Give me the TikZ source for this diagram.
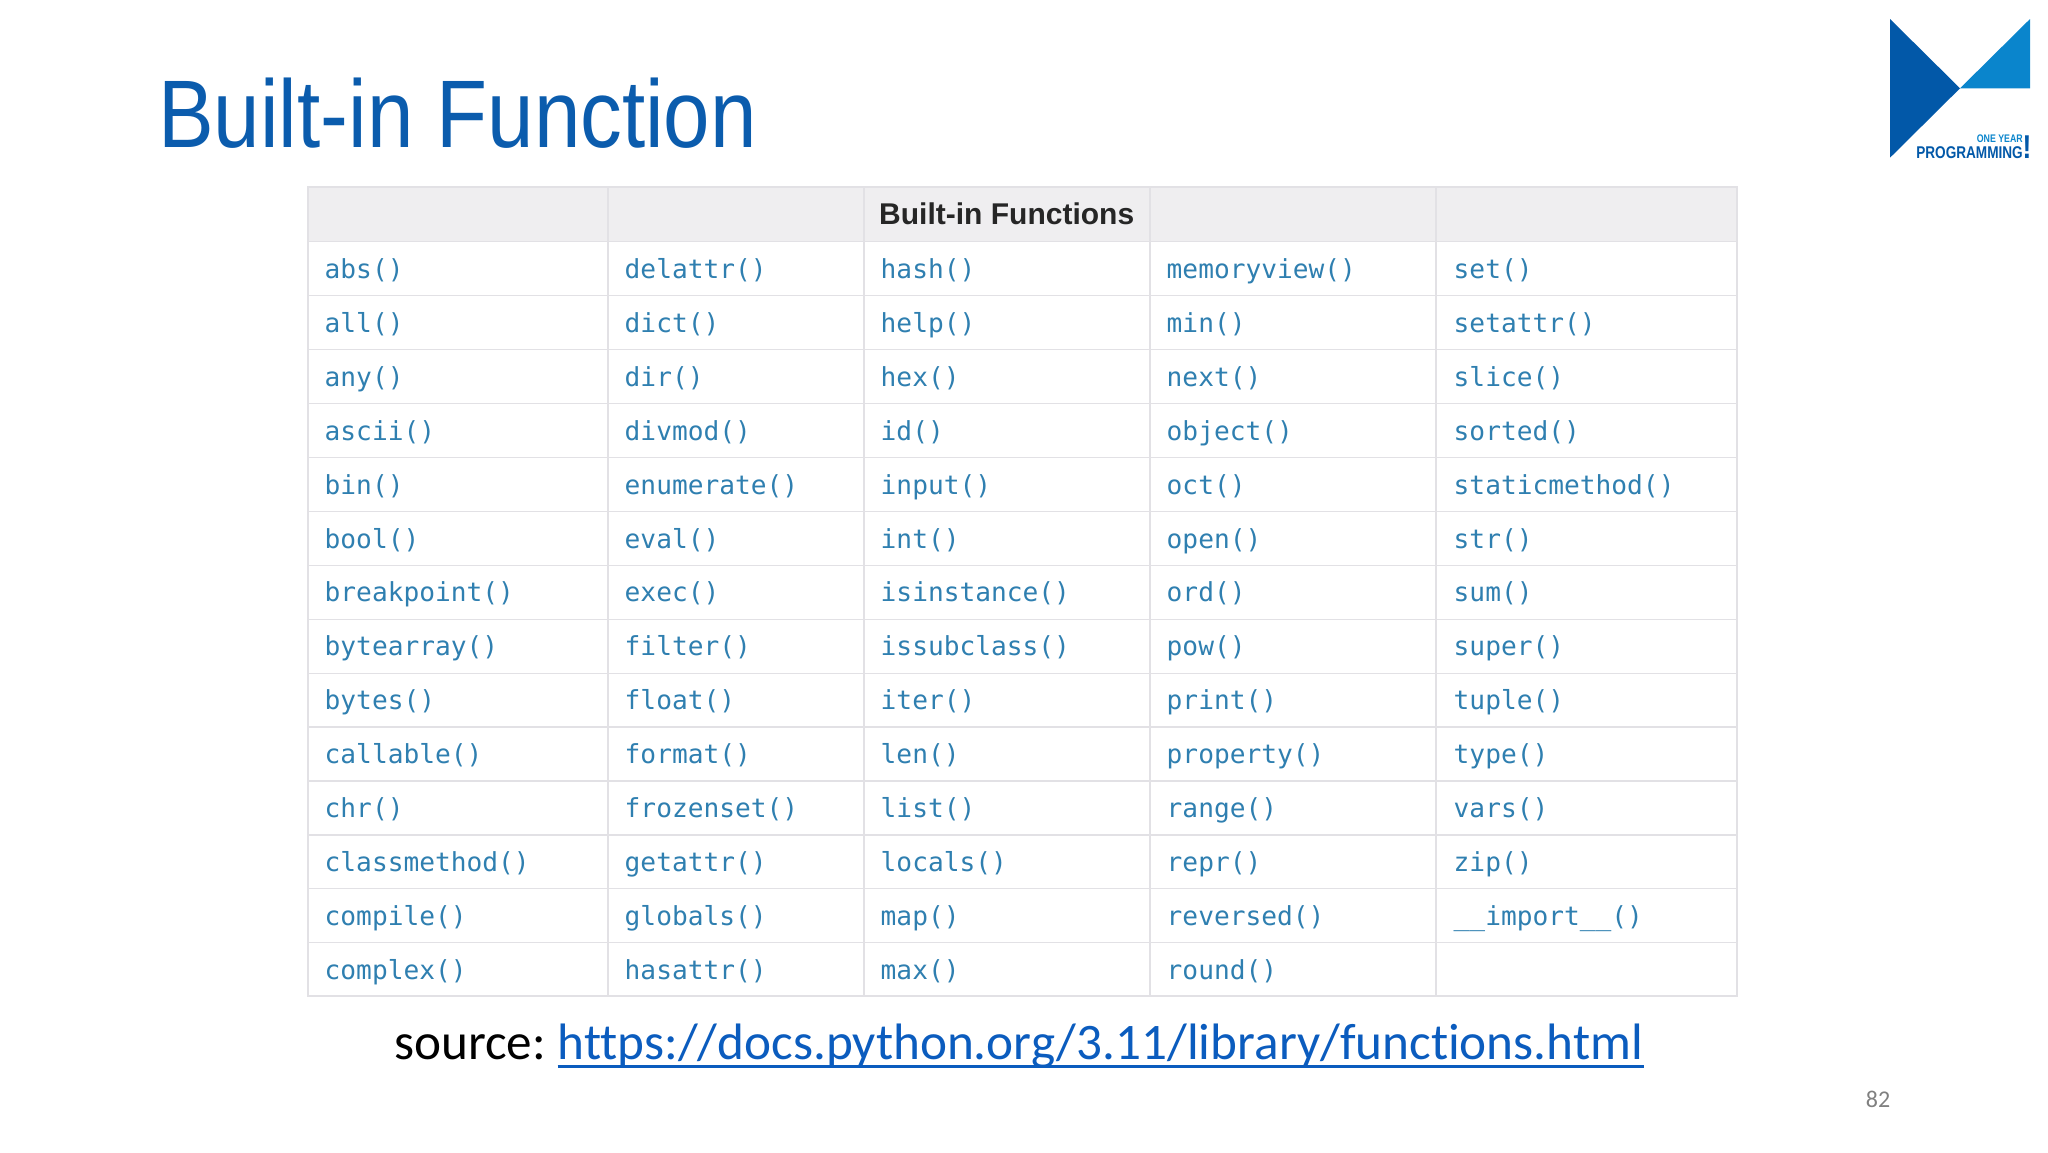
\documentclass[tikz,border=0pt]{standalone}
\usepackage{fontspec}
\setmainfont[Ligatures=NoCommon]{Carlito}
\newfontfamily\codefont{DejaVu Sans Mono}
\newfontfamily\headfont{Liberation Sans}
\newfontfamily\titlefont[FakeStretch=0.87]{Liberation Sans}
\newfontfamily\logofont[FakeStretch=0.8]{Liberation Sans}
\definecolor{titleblue}{HTML}{0B5CAD}
\definecolor{logodark}{HTML}{0258A8}
\definecolor{logolight}{HTML}{0A85CC}
\definecolor{fncolor}{HTML}{2F7FB0}
\definecolor{headfill}{HTML}{EFEEF0}
\definecolor{gridcolor}{HTML}{E2E1E5}
\definecolor{linkblue}{HTML}{0B5CBE}
\tikzset{%
    fn/.style={%
        anchor=base west,
        inner sep=0pt,
        text=fncolor,
        font=\codefont\fontsize{26.2}{30}\selectfont
    },
    gridline/.style={%
        draw=gridcolor,
        line width=1.2pt
    }
}
\begin{document}
\begin{tikzpicture}[x=1pt,y=-1pt]
    \useasboundingbox (0,0) rectangle (2048,1152);
    \node[anchor=base west,inner sep=0pt,text=titleblue,font=\titlefont\fontsize{96}{110}\selectfont] (title) at (158,147) {Built-in Function};
    % logo
    \fill[logodark] (1890,19) -- (1960,88.3) -- (1890,157.7) -- cycle;
    \fill[logolight] (2030,19) -- (2030,88.3) -- (1960,88.3) -- cycle;
    \node[anchor=base east,inner sep=0pt,text=logolight,font=\logofont\bfseries\fontsize{11}{13}\selectfont] (oneyear) at (2023,142) {ONE YEAR};
    \node[anchor=base east,inner sep=0pt,text=logodark,font=\logofont\bfseries\fontsize{17}{20}\selectfont] (programming) at (2023,158) {PROGRAMMING};
    \node[anchor=base east,inner sep=0pt,text=logodark,font=\logofont\bfseries\fontsize{33}{33}\selectfont] (bang) at (2031.5,158) {!};
    % table
    \fill[headfill] (308,187) rectangle (1737,241.7);
    \draw[gridline] (308,187) rectangle (1737,996);
    \draw[gridline] (608,187) -- (608,996);
    \draw[gridline] (864,187) -- (864,996);
    \draw[gridline] (1150,187) -- (1150,996);
    \draw[gridline] (1436,187) -- (1436,996);
    \draw[gridline] (308,241.7) -- (1737,241.7);
    \draw[gridline] (308,295.6) -- (1737,295.6);
    \draw[gridline] (308,349.5) -- (1737,349.5);
    \draw[gridline] (308,403.5) -- (1737,403.5);
    \draw[gridline] (308,457.4) -- (1737,457.4);
    \draw[gridline] (308,511.3) -- (1737,511.3);
    \draw[gridline] (308,565.3) -- (1737,565.3);
    \draw[gridline] (308,619.2) -- (1737,619.2);
    \draw[gridline] (308,673.1) -- (1737,673.1);
    \draw[gridline] (308,727.0) -- (1737,727.0);
    \draw[gridline] (308,781.0) -- (1737,781.0);
    \draw[gridline] (308,834.9) -- (1737,834.9);
    \draw[gridline] (308,888.8) -- (1737,888.8);
    \draw[gridline] (308,942.8) -- (1737,942.8);
    \node[anchor=base west,inner sep=0pt,font=\headfont\bfseries\fontsize{30}{34}\selectfont,text=black!85] (head) at (879,224) {Built-in Functions};
    % first column
    \node[fn] (abs) at (324.5,278.3) {abs()};
    \node[fn] (all) at (324.5,332.2) {all()};
    \node[fn] (any) at (324.5,386.2) {any()};
    \node[fn] (ascii) at (324.5,440.1) {ascii()};
    \node[fn] (bin) at (324.5,494) {bin()};
    \node[fn] (bool) at (324.5,548) {bool()};
    \node[fn] (breakpoint) at (324.5,601.9) {breakpoint()};
    \node[fn] (bytearray) at (324.5,655.8) {bytearray()};
    \node[fn] (bytes) at (324.5,709.7) {bytes()};
    \node[fn] (callable) at (324.5,763.7) {callable()};
    \node[fn] (chr) at (324.5,817.6) {chr()};
    \node[fn] (classmethod) at (324.5,871.5) {classmethod()};
    \node[fn] (compile) at (324.5,925.5) {compile()};
    \node[fn] (complex) at (324.5,979.4) {complex()};
    % second column
    \node[fn] (delattr) at (624.5,278.3) {delattr()};
    \node[fn] (dict) at (624.5,332.2) {dict()};
    \node[fn] (dir) at (624.5,386.2) {dir()};
    \node[fn] (divmod) at (624.5,440.1) {divmod()};
    \node[fn] (enumerate) at (624.5,494) {enumerate()};
    \node[fn] (eval) at (624.5,548) {eval()};
    \node[fn] (exec) at (624.5,601.9) {exec()};
    \node[fn] (filter) at (624.5,655.8) {filter()};
    \node[fn] (float) at (624.5,709.7) {float()};
    \node[fn] (format) at (624.5,763.7) {format()};
    \node[fn] (frozenset) at (624.5,817.6) {frozenset()};
    \node[fn] (getattr) at (624.5,871.5) {getattr()};
    \node[fn] (globals) at (624.5,925.5) {globals()};
    \node[fn] (hasattr) at (624.5,979.4) {hasattr()};
    % third column
    \node[fn] (hash) at (880.5,278.3) {hash()};
    \node[fn] (help) at (880.5,332.2) {help()};
    \node[fn] (hex) at (880.5,386.2) {hex()};
    \node[fn] (id) at (880.5,440.1) {id()};
    \node[fn] (input) at (880.5,494) {input()};
    \node[fn] (int) at (880.5,548) {int()};
    \node[fn] (isinstance) at (880.5,601.9) {isinstance()};
    \node[fn] (issubclass) at (880.5,655.8) {issubclass()};
    \node[fn] (iter) at (880.5,709.7) {iter()};
    \node[fn] (len) at (880.5,763.7) {len()};
    \node[fn] (list) at (880.5,817.6) {list()};
    \node[fn] (locals) at (880.5,871.5) {locals()};
    \node[fn] (map) at (880.5,925.5) {map()};
    \node[fn] (max) at (880.5,979.4) {max()};
    % fourth column
    \node[fn] (memoryview) at (1166.5,278.3) {memoryview()};
    \node[fn] (min) at (1166.5,332.2) {min()};
    \node[fn] (next) at (1166.5,386.2) {next()};
    \node[fn] (object) at (1166.5,440.1) {object()};
    \node[fn] (oct) at (1166.5,494) {oct()};
    \node[fn] (open) at (1166.5,548) {open()};
    \node[fn] (ord) at (1166.5,601.9) {ord()};
    \node[fn] (pow) at (1166.5,655.8) {pow()};
    \node[fn] (print) at (1166.5,709.7) {print()};
    \node[fn] (property) at (1166.5,763.7) {property()};
    \node[fn] (range) at (1166.5,817.6) {range()};
    \node[fn] (repr) at (1166.5,871.5) {repr()};
    \node[fn] (reversed) at (1166.5,925.5) {reversed()};
    \node[fn] (round) at (1166.5,979.4) {round()};
    % fifth column
    \node[fn] (set) at (1453.5,278.3) {set()};
    \node[fn] (setattr) at (1453.5,332.2) {setattr()};
    \node[fn] (slice) at (1453.5,386.2) {slice()};
    \node[fn] (sorted) at (1453.5,440.1) {sorted()};
    \node[fn] (staticmethod) at (1453.5,494) {staticmethod()};
    \node[fn] (str) at (1453.5,548) {str()};
    \node[fn] (sum) at (1453.5,601.9) {sum()};
    \node[fn] (super) at (1453.5,655.8) {super()};
    \node[fn] (tuple) at (1453.5,709.7) {tuple()};
    \node[fn] (type) at (1453.5,763.7) {type()};
    \node[fn] (vars) at (1453.5,817.6) {vars()};
    \node[fn] (zip) at (1453.5,871.5) {zip()};
    \node[fn] (import) at (1453.5,925.5) {\_\_import\_\_()};
    % source line
    \node[anchor=base west,inner sep=0pt,font=\fontsize{51.2}{60}\selectfont] (source) at (394,1059) {source:};
    \node[anchor=base west,inner sep=0pt,text=linkblue,font=\fontsize{51.2}{60}\selectfont] (link) at (557.5,1059) {https://docs.python.org/3.11/library/functions.html};
    \draw[linkblue,line width=3pt] (557.5,1066) -- (link.base east |- 557.5,1066);
    \node[anchor=base,inner sep=0pt,text=black!50,font=\fontsize{24}{28}\selectfont] (pagenum) at (1878,1107) {82};
\end{tikzpicture}
\end{document}
